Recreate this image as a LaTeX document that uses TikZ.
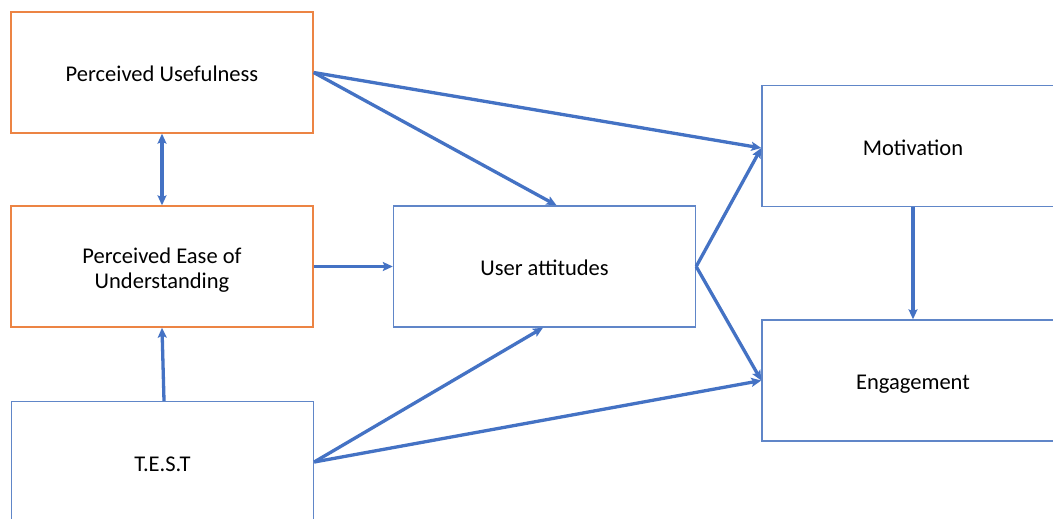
\documentclass[tikz,border=0pt]{standalone}
\usepackage{fontspec}
\setmainfont{Carlito}
\usetikzlibrary{arrows.meta,calc}
\definecolor{boxorange}{RGB}{236,132,68}
\definecolor{boxblue}{RGB}{96,134,200}
\definecolor{arrowblue}{RGB}{68,114,196}
\newcommand{\boxlbl}[1]{\raisebox{0pt}[\dimexpr\height+8pt\relax][\depth]{\begin{tabular}{@{}c@{}}#1\end{tabular}}}
\tikzset{
  box/.style={draw, line width=1.4pt, minimum width=302pt, minimum height=121pt, inner sep=0pt, align=center, text=black, font=\fontsize{22.5}{25}\selectfont},
  obox/.style={box, draw=boxorange},
  bbox/.style={box, draw=boxblue},
  tip/.tip={Stealth[length=10pt,width=9pt,inset=2pt]},
  conn/.style={draw=arrowblue, line width=3.3pt, -tip},
  dconn/.style={draw=arrowblue, line width=3.3pt, tip-tip}
}
\begin{document}
\begin{tikzpicture}[x=1pt,y=-1pt]
\path[use as bounding box, fill=white] (0,0) rectangle (1053,519);
\node[obox] (pu)  at (162,72.5)  {\boxlbl{Perceived Usefulness}};
\node[obox] (peu) at (162,266.5) {\boxlbl{Perceived Ease of\\Understanding}};
\node[bbox] (test) at (162.5,462) {\boxlbl{T.E.S.T}};
\node[bbox] (ua)  at (544.5,266.5) {\boxlbl{User attitudes}};
\node[bbox] (mot) at (913,146) {\boxlbl{Motivation}};
\node[bbox] (eng) at (913,380.5) {\boxlbl{Engagement}};
\draw[conn] (pu.east) -- ($(mot.west)+(0,2)$);
\draw[conn] (pu.east) -- ($(ua.north)+(12,0)$);
\draw[dconn] (pu.south) -- (peu.north);
\draw[conn] (peu.east) -- (ua.west);
\draw[conn] ($(test.north)+(1.5,0)$) -- (peu.south);
\draw[conn] (test.east) -- ($(ua.south)+(-1.5,0)$);
\draw[conn] (test.east) -- (eng.west);
\draw[conn] (ua.east) -- ($(mot.west)+(0,2)$);
\draw[conn] (ua.east) -- (eng.west);
\draw[conn] (mot.south) -- (eng.north);
\end{tikzpicture}
\end{document}
